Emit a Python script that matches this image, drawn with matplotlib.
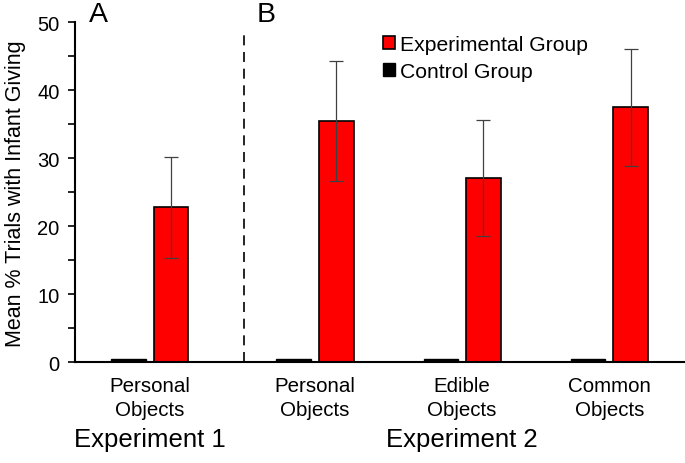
import numpy as np
import matplotlib
matplotlib.use('Agg')
import matplotlib.pyplot as plt
from matplotlib.ticker import MultipleLocator

plt.rcParams['font.family'] = ['Liberation Sans', 'DejaVu Sans']

categories = ['Personal\nObjects', 'Personal\nObjects', 'Edible\nObjects', 'Common\nObjects']
experimental = [22.8, 35.5, 27.1, 37.5]
experimental_err = [7.4, 8.8, 8.5, 8.6]
control = [0.45, 0.45, 0.45, 0.45]
positions = [0, 1.125, 2.125, 3.125]

fig = plt.figure(figsize=(6.85, 4.64), dpi=100)
ax = fig.add_axes([0.1095, 0.217, 0.8905, 0.733])

x = np.array(positions)
w = 0.235
ax.bar(x - 0.145, control, w, color='black', edgecolor='black', linewidth=1,
       label='Control Group')
ax.bar(x + 0.145, experimental, w, color='#ff0000', edgecolor='black', linewidth=1.2,
       label='Experimental Group')
ax.errorbar(x + 0.145, experimental, yerr=experimental_err, fmt='none',
            ecolor='#404040', elinewidth=0.9, capsize=5, capthick=0.9)

ax.plot([0.643, 0.643], [0, 48.6], color='black', linestyle=(0, (6, 4)), linewidth=1.2)

ax.set_xlim(-0.507, 3.64)
ax.set_ylim(0, 50)
ax.yaxis.set_major_locator(MultipleLocator(10))
ax.yaxis.set_minor_locator(MultipleLocator(5))
ax.tick_params(axis='y', which='both', direction='out', length=5, width=1.2,
               labelsize=14.5, pad=6)
ax.set_xticks(positions)
ax.set_xticklabels(categories, fontsize=14.8, linespacing=1.35)
ax.tick_params(axis='x', length=0, pad=10)
for s in ['top', 'right']:
    ax.spines[s].set_visible(False)
ax.spines['left'].set_linewidth(1.5)
ax.spines['bottom'].set_linewidth(1.5)

ax.set_ylabel('Mean % Trials with Infant Giving', fontsize=15.5, labelpad=8)

handles, labels = ax.get_legend_handles_labels()
ax.legend(handles[::-1], labels[::-1], loc='upper left', bbox_to_anchor=(0.547, 0.941),
          bbox_transform=fig.transFigure, frameon=False, fontsize=15.2,
          handlelength=0.57, handleheight=0.57, handletextpad=0.25, labelspacing=0.38,
          borderaxespad=0)

fig.text(0.13, 0.952, 'A', fontsize=20.5, va='baseline', ha='left')
fig.text(0.375, 0.952, 'B', fontsize=20.5, va='baseline', ha='left')

trans = ax.get_xaxis_transform()
ax.text(0, -0.19, 'Experiment 1', transform=trans, fontsize=18.5, ha='center', va='top')
ax.text(2.125, -0.19, 'Experiment 2', transform=trans, fontsize=18.5, ha='center', va='top')

fig.savefig('out.png', dpi=100)
